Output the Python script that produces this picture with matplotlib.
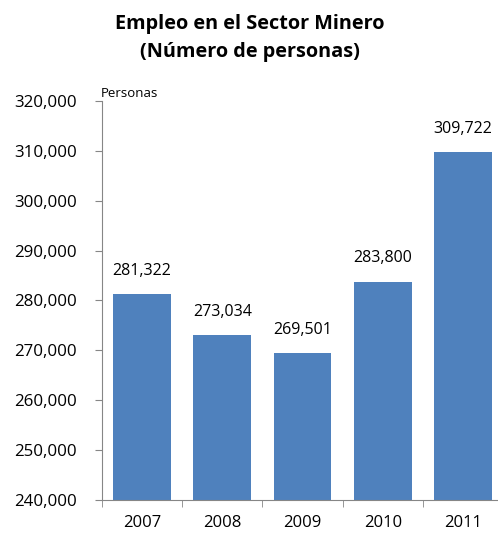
import matplotlib
matplotlib.use("Agg")
import matplotlib.pyplot as plt
from matplotlib.ticker import FuncFormatter
import numpy as np

years = ["2007", "2008", "2009", "2010", "2011"]
values = [281322, 273034, 269501, 283800, 309722]
yticks = [240000, 250000, 260000, 270000, 280000, 290000, 300000, 310000, 320000]

plt.rcParams['font.family'] = ['Open Sans', 'DejaVu Sans']

fig = plt.figure(figsize=(4.98, 5.38), dpi=100)
ax = fig.add_axes([102/498, 1-500/538, 401/498, 399/538])

x = np.arange(len(years))
ax.bar(x, values, width=0.72, color='#4f81bd', zorder=2)
ax.set_xlim(-0.5, len(years) - 0.5)
ax.set_ylim(240000, 320000)
ax.set_yticks(yticks)
ax.yaxis.set_major_formatter(FuncFormatter(lambda v, p: f"{int(v):,}"))
ax.set_xticks(x)
ax.set_xticklabels(years)
ax.set_xticks(np.arange(-0.5, len(years)), minor=True)
ax.tick_params(axis='x', which='major', length=0, pad=11, labelsize=12)
ax.tick_params(axis='x', which='minor', length=5, color='#868686', direction='out')
ax.tick_params(axis='y', length=5, color='#868686', labelsize=12.2, pad=13)

for s in ['top', 'right']:
    ax.spines[s].set_visible(False)
for s in ['left', 'bottom']:
    ax.spines[s].set_color('#868686')

for xi, v in zip(x, values):
    ax.annotate(f"{v:,}", (xi, v), xytext=(0, 11), textcoords='offset points',
                ha='center', va='bottom', fontsize=11.5)

fig.text(101/498, 1-97/538, "Personas", ha='left', va='baseline', fontsize=9.5)

fig.text(250/498, 1-29/538, "Empleo en el Sector Minero", ha='center', va='baseline',
         fontsize=14.3, fontweight='bold')
fig.text(250/498, 1-57/538, "(Número de personas)", ha='center', va='baseline',
         fontsize=14.3, fontweight='bold')

fig.savefig("out.png", dpi=100)
